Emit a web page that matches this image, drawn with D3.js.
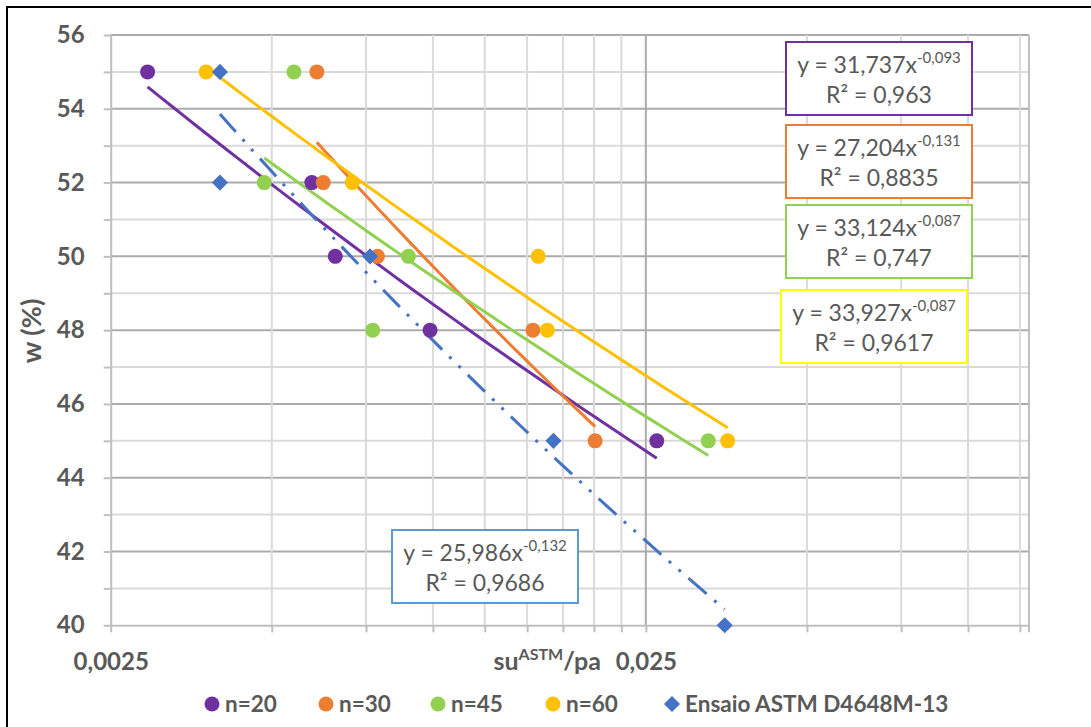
<!DOCTYPE html>
<html>
<head>
<meta charset="utf-8">
<script src="https://cdn.jsdelivr.net/npm/d3@7"></script>
<style>
  body { margin: 0; background: #fff; }
  text { font-family: Lato, "Liberation Sans", sans-serif; fill: #595959; }
</style>
</head>
<body>
<div id="chart"></div>
<script>
// series: su/pa (x, log scale) vs w (%)
const seriesNames = ['n=20', 'n=30', 'n=45', 'n=60', 'Ensaio ASTM D4648M-13'];
const n20X = [0.00293, 0.00594, 0.00657, 0.00988, 0.0262];
const n20Y = [55, 52, 50, 48, 45];
const n30X = [0.00607, 0.00624, 0.00788, 0.01538, 0.0201];
const n30Y = [55, 52, 50, 48, 45];
const n45X = [0.0055, 0.00484, 0.0090, 0.00772, 0.0327];
const n45Y = [55, 52, 50, 48, 45];
const n60X = [0.00377, 0.00707, 0.01573, 0.01637, 0.03555];
const n60Y = [55, 52, 50, 48, 45];
const astmX = [0.0040, 0.0040, 0.00763, 0.0168, 0.0351];
const astmY = [55, 52, 50, 45, 40];

// power trendlines y = a*x^b, as printed on the chart
const trendA = [31.737, 27.204, 33.124, 33.927, 25.986];
const trendB = [-0.093, -0.131, -0.087, -0.087, -0.132];
const trendCoefLabels = ['31,737', '27,204', '33,124', '33,927', '25,986'];
const trendExpLabels = ['-0,093', '-0,131', '-0,087', '-0,087', '-0,132'];
const trendR2Labels = ['0,963', '0,8835', '0,747', '0,9617', '0,9686'];

// axes
const xDomain = [0.0025, 0.13];
const yDomain = [40, 56];
const xGridValues = [0.0025, 0.005, 0.0075, 0.01, 0.0125, 0.015, 0.0175, 0.02, 0.0225,
                     0.025, 0.05, 0.075, 0.1, 0.125];
const xLabelValues = [0.0025, 0.025];
const xLabelText = ['0,0025', '0,025'];
const yGridValues = d3.range(40, 57);

const width = 1091, height = 727;
const plot = { left: 110.7, right: 1029, top: 35, bottom: 625.3 };

const colors = ['#7030A0', '#ED7D31', '#92D050', '#FFC000', '#4472C4'];
const boxColors = ['#7030A0', '#ED7D31', '#92D050', '#FFFF00', '#5B9BD5'];

const series = [
  [n20X, n20Y], [n30X, n30Y], [n45X, n45Y], [n60X, n60Y], [astmX, astmY]
].map(([xs, ys], i) => ({
  name: seriesNames[i],
  color: colors[i],
  points: xs.map((x, j) => ({ x, y: ys[j] })),
  a: trendA[i], b: trendB[i]
}));

const svg = d3.select('#chart').append('svg')
  .attr('width', width).attr('height', height);

// outer chart frame (only top/left visible in the picture)
svg.append('rect')
  .attr('x', 7).attr('y', 7).attr('width', 1120).attr('height', 760)
  .attr('fill', 'none').attr('stroke', '#000').attr('stroke-width', 2);

const x = d3.scaleLog(xDomain, [plot.left, plot.right]);
const y = d3.scaleLinear(yDomain, [plot.bottom, plot.top]);

// gridlines
const grid = svg.append('g');
grid.selectAll('line.hgrid')
  .data(yGridValues.filter(d => d > 40))
  .join('line')
  .attr('x1', plot.left).attr('x2', plot.right)
  .attr('y1', d => y(d)).attr('y2', d => y(d))
  .attr('stroke', d => d % 2 === 0 ? '#ABABAB' : '#DADADA')
  .attr('stroke-width', 2);
grid.selectAll('line.vgrid')
  .data(xGridValues.slice(1))
  .join('line')
  .attr('x1', d => x(d)).attr('x2', d => x(d))
  .attr('y1', plot.top).attr('y2', plot.bottom)
  .attr('stroke', d => d === 0.025 ? '#ABABAB' : '#DADADA')
  .attr('stroke-width', 2);
// right edge of the plot area
grid.append('line')
  .attr('x1', plot.right).attr('x2', plot.right)
  .attr('y1', plot.top).attr('y2', plot.bottom + 7)
  .attr('stroke', '#BFBFBF').attr('stroke-width', 2);

// axes
const axisY = svg.append('g')
  .attr('transform', `translate(${plot.left},0)`)
  .call(d3.axisLeft(y).tickValues(yGridValues).tickSize(7).tickSizeOuter(0)
    .tickPadding(19).tickFormat(d => d % 2 === 0 ? d : ''));
const axisX = svg.append('g')
  .attr('transform', `translate(0,${plot.bottom})`)
  .call(d3.axisBottom(x).tickValues(xGridValues).tickSize(7).tickSizeOuter(0)
    .tickPadding(21).tickFormat(d => {
      const k = xLabelValues.indexOf(d);
      return k < 0 ? '' : xLabelText[k];
    }));
[axisX, axisY].forEach(ax => {
  ax.select('.domain').attr('stroke', '#BFBFBF').attr('stroke-width', 2);
  ax.selectAll('.tick line').attr('stroke', '#BFBFBF').attr('stroke-width', 2);
  ax.selectAll('.tick text')
    .attr('fill', '#595959').style('font-size', '24px').style('font-weight', 700)
    .style('font-family', 'Lato, "Liberation Sans", sans-serif');
});

// axis titles
const xTitle = svg.append('text')
  .attr('x', 601).attr('y', 670).attr('text-anchor', 'end')
  .style('font-size', '25px').style('font-weight', 700);
xTitle.append('tspan').text('su');
xTitle.append('tspan').attr('dy', -10).style('font-size', '16px').text('ASTM');
xTitle.append('tspan').attr('dy', 10).text('/pa');

svg.append('text')
  .attr('transform', 'translate(41,331) rotate(-90)')
  .attr('text-anchor', 'middle')
  .style('font-size', '27px').style('font-weight', 700)
  .text('w (%)');

// trendlines
const line = d3.line().x(d => x(d[0])).y(d => y(d[1]));
series.forEach((s, i) => {
  const [lo, hi] = d3.extent(s.points, p => p.x);
  const pts = d3.range(41).map(k => {
    const xv = Math.exp(Math.log(lo) + (Math.log(hi) - Math.log(lo)) * k / 40);
    return [xv, s.a * Math.pow(xv, s.b)];
  });
  const path = svg.append('path')
    .attr('d', line(pts))
    .attr('fill', 'none')
    .attr('stroke', s.color)
    .attr('stroke-width', 3);
  if (i === 4) path.attr('stroke-dasharray', '24 10 3 10 3 10');
});

// markers
const diamond = d3.symbol(d3.symbolSquare, 130);
series.forEach((s, i) => {
  const g = svg.append('g');
  if (i < 4) {
    g.selectAll('circle').data(s.points).join('circle')
      .attr('cx', d => x(d.x)).attr('cy', d => y(d.y))
      .attr('r', 7.5).attr('fill', s.color);
  } else {
    g.selectAll('path').data(s.points).join('path')
      .attr('d', diamond)
      .attr('transform', d => `translate(${x(d.x)},${y(d.y)}) rotate(45)`)
      .attr('fill', s.color);
  }
});

// equation boxes
const boxes = [
  { x: 786, y: 42 }, { x: 786, y: 125 }, { x: 786, y: 205 },
  { x: 781, y: 290 }, { x: 392, y: 530 }
];
boxes.forEach((b, i) => {
  const g = svg.append('g').attr('transform', `translate(${b.x},${b.y})`);
  g.append('rect').attr('width', 186).attr('height', 73)
    .attr('fill', '#fff').attr('stroke', boxColors[i]).attr('stroke-width', 2);
  const t1 = g.append('text').attr('x', 93).attr('y', 31)
    .attr('text-anchor', 'middle').style('font-size', '23px');
  t1.append('tspan').text(`y = ${trendCoefLabels[i]}x`);
  t1.append('tspan').attr('dy', -10).style('font-size', '15px').text(trendExpLabels[i]);
  g.append('text').attr('x', 93).attr('y', 61)
    .attr('text-anchor', 'middle').style('font-size', '23px')
    .text(`R² = ${trendR2Labels[i]}`);
});

// legend
const legendX = [212, 326, 438, 553, 672];
const legend = svg.append('g');
series.forEach((s, i) => {
  const g = legend.append('g').attr('transform', `translate(${legendX[i]},704)`);
  if (i < 4) g.append('circle').attr('r', 7.5).attr('fill', s.color);
  else g.append('path').attr('d', diamond).attr('transform', 'rotate(45)').attr('fill', s.color);
  g.append('text').attr('x', 13).attr('y', 8)
    .style('font-size', '22.5px').style('font-weight', 700)
    .text(s.name);
});
</script>
</body>
</html>
